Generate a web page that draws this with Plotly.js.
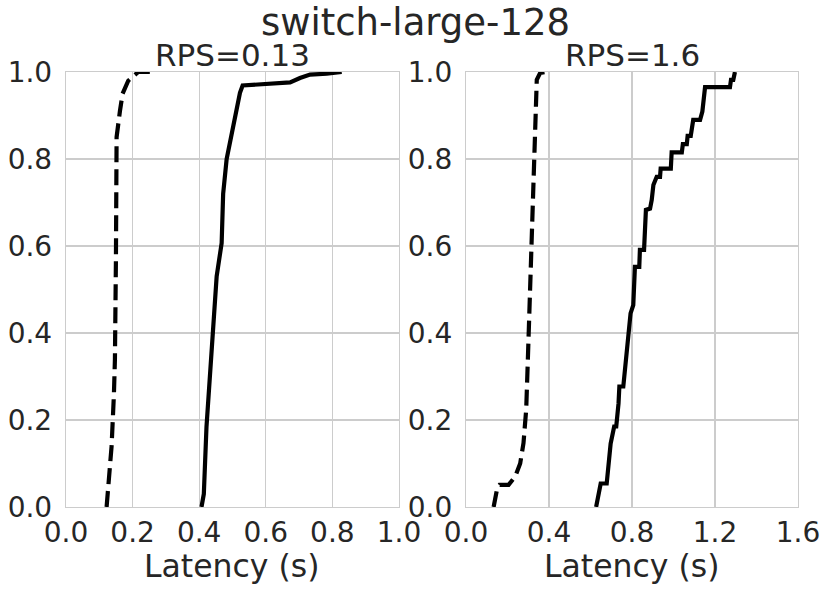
<!DOCTYPE html>
<html>
<head>
<meta charset="utf-8">
<script src="https://cdn.plot.ly/plotly-3.0.1.min.js"></script>
<style>html,body{margin:0;padding:0;background:#fff;}#chart{width:831px;height:592px;}</style>
</head>
<body>
<div id="chart"></div>
<script>
// Left panel (RPS=0.13)
const leftDashedX = [0.122,0.137,0.144,0.147,0.150,0.150,0.152,0.162,0.170,0.187,0.217,0.272];
const leftDashedY = [0,0.14,0.26,0.34,0.57,0.80,0.85,0.91,0.95,0.98,1.0,1.0];
const leftSolidX = [0.407,0.414,0.422,0.4375,0.4525,0.4675,0.472,0.4825,0.4925,0.502,0.512,0.5225,0.5305,0.5826,0.673,0.7027,0.733,0.783,0.828];
const leftSolidY = [0,0.03,0.185,0.377,0.53,0.607,0.72,0.80,0.837,0.875,0.913,0.952,0.969,0.971,0.976,0.986,0.994,0.996,1.0];
// Right panel (RPS=1.6)
const rightDashedX = [0.133,0.149,0.162,0.205,0.237,0.261,0.277,0.290,0.298,0.306,0.314,0.322,0.330,0.337,0.341,0.3575,0.3816];
const rightDashedY = [0,0.04,0.051,0.051,0.07,0.10,0.147,0.224,0.339,0.454,0.569,0.722,0.837,0.913,0.982,0.998,1.0];
const rightSolidX = [0.627,0.638,0.649,0.678,0.690,0.697,0.714,0.724,0.735,0.739,0.758,0.762,0.783,0.793,0.806,0.814,0.835,0.838,0.858,0.867,0.887,0.895,0.903,0.919,0.935,0.938,0.987,0.991,1.040,1.045,1.064,1.068,1.083,1.088,1.095,1.128,1.139,1.152,1.272,1.277,1.288,1.296];
const rightSolidY = [0,0.031,0.054,0.054,0.127,0.146,0.185,0.185,0.238,0.277,0.277,0.296,0.403,0.445,0.464,0.552,0.552,0.591,0.591,0.683,0.686,0.706,0.740,0.759,0.759,0.778,0.778,0.815,0.815,0.834,0.834,0.853,0.853,0.870,0.890,0.890,0.909,0.965,0.965,0.982,0.982,1.0];

const mainTitle = "switch-large-128";
const panelTitles = ["RPS=0.13", "RPS=1.6"];
const xTitle = "Latency (s)";
const leftXTicks = [0,0.2,0.4,0.6,0.8,1.0];
const rightXTicks = [0,0.4,0.8,1.2,1.6];
const yTicks = [0,0.2,0.4,0.6,0.8,1.0];

const FONT = "DejaVu Sans, sans-serif";
const TXT = "#262626";
const dash = "16px,7px";

const traces = [
  {x: leftDashedX, y: leftDashedY, xaxis:'x', yaxis:'y', mode:'lines', line:{color:'black', width:4.2, dash:dash}},
  {x: leftSolidX, y: leftSolidY, xaxis:'x', yaxis:'y', mode:'lines', line:{color:'black', width:4.2}},
  {x: rightDashedX, y: rightDashedY, xaxis:'x2', yaxis:'y2', mode:'lines', line:{color:'black', width:4.2, dash:dash}},
  {x: rightSolidX, y: rightSolidY, xaxis:'x2', yaxis:'y2', mode:'lines', line:{color:'black', width:4.2}}
];

function xax(domain, range, ticks, anchor) {
  return {domain: domain, range: range, tickvals: ticks, ticktext: ticks.map(v=>v.toFixed(1)),
    anchor: anchor, showgrid:true, gridcolor:'#cccccc', gridwidth:1.2, zeroline:false,
    showline:true, linecolor:'#cccccc', linewidth:1.2, mirror:true, ticks:'',
    tickfont:{family:FONT, size:28, color:TXT}, ticklabelstandoff:0};
}
function yax(domain, anchor) {
  return {domain: domain, range:[0,1], tickvals: yTicks, ticktext: yTicks.map(v=>v.toFixed(1)),
    anchor: anchor, showgrid:true, gridcolor:'#cccccc', gridwidth:1.2, zeroline:false,
    showline:true, linecolor:'#cccccc', linewidth:1.2, mirror:true, ticks:'',
    tickfont:{family:FONT, size:28, color:TXT}, ticklabelstandoff:7};
}
const yDom = [0.1436, 0.8784];
const leftDom = [0.0794,0.4801], rightDom = [0.5608,0.9603];
const layout = {
  width:831, height:592, margin:{l:0,r:0,t:0,b:0}, showlegend:false,
  paper_bgcolor:'white', plot_bgcolor:'white',
  font:{family:FONT, color:TXT},
  title:{text:mainTitle, font:{family:FONT, size:37, color:TXT}, x:0.5, xanchor:'center', y:0.962, yanchor:'middle', yref:'paper'},
  xaxis: xax(leftDom, [0,1], leftXTicks, 'y'),
  yaxis: yax(yDom, 'x'),
  xaxis2: xax(rightDom, [0,1.6], rightXTicks, 'y2'),
  yaxis2: yax(yDom, 'x2'),
  annotations: [
    {text:panelTitles[0], xref:'paper', yref:'paper', x:(leftDom[0]+leftDom[1])/2, y:0.8784, xanchor:'center', yanchor:'bottom', yshift:-3, showarrow:false, font:{family:FONT, size:31, color:TXT}},
    {text:panelTitles[1], xref:'paper', yref:'paper', x:(rightDom[0]+rightDom[1])/2, y:0.8784, xanchor:'center', yanchor:'bottom', yshift:-3, showarrow:false, font:{family:FONT, size:31, color:TXT}},
    {text:xTitle, xref:'paper', yref:'paper', x:(leftDom[0]+leftDom[1])/2, y:(592-566)/592, xanchor:'center', yanchor:'middle', showarrow:false, font:{family:FONT, size:31.5, color:TXT}},
    {text:xTitle, xref:'paper', yref:'paper', x:(rightDom[0]+rightDom[1])/2, y:(592-566)/592, xanchor:'center', yanchor:'middle', showarrow:false, font:{family:FONT, size:31.5, color:TXT}}
  ]
};
Plotly.newPlot('chart', traces, layout, {displayModeBar:false, staticPlot:true});
</script>
</body>
</html>
